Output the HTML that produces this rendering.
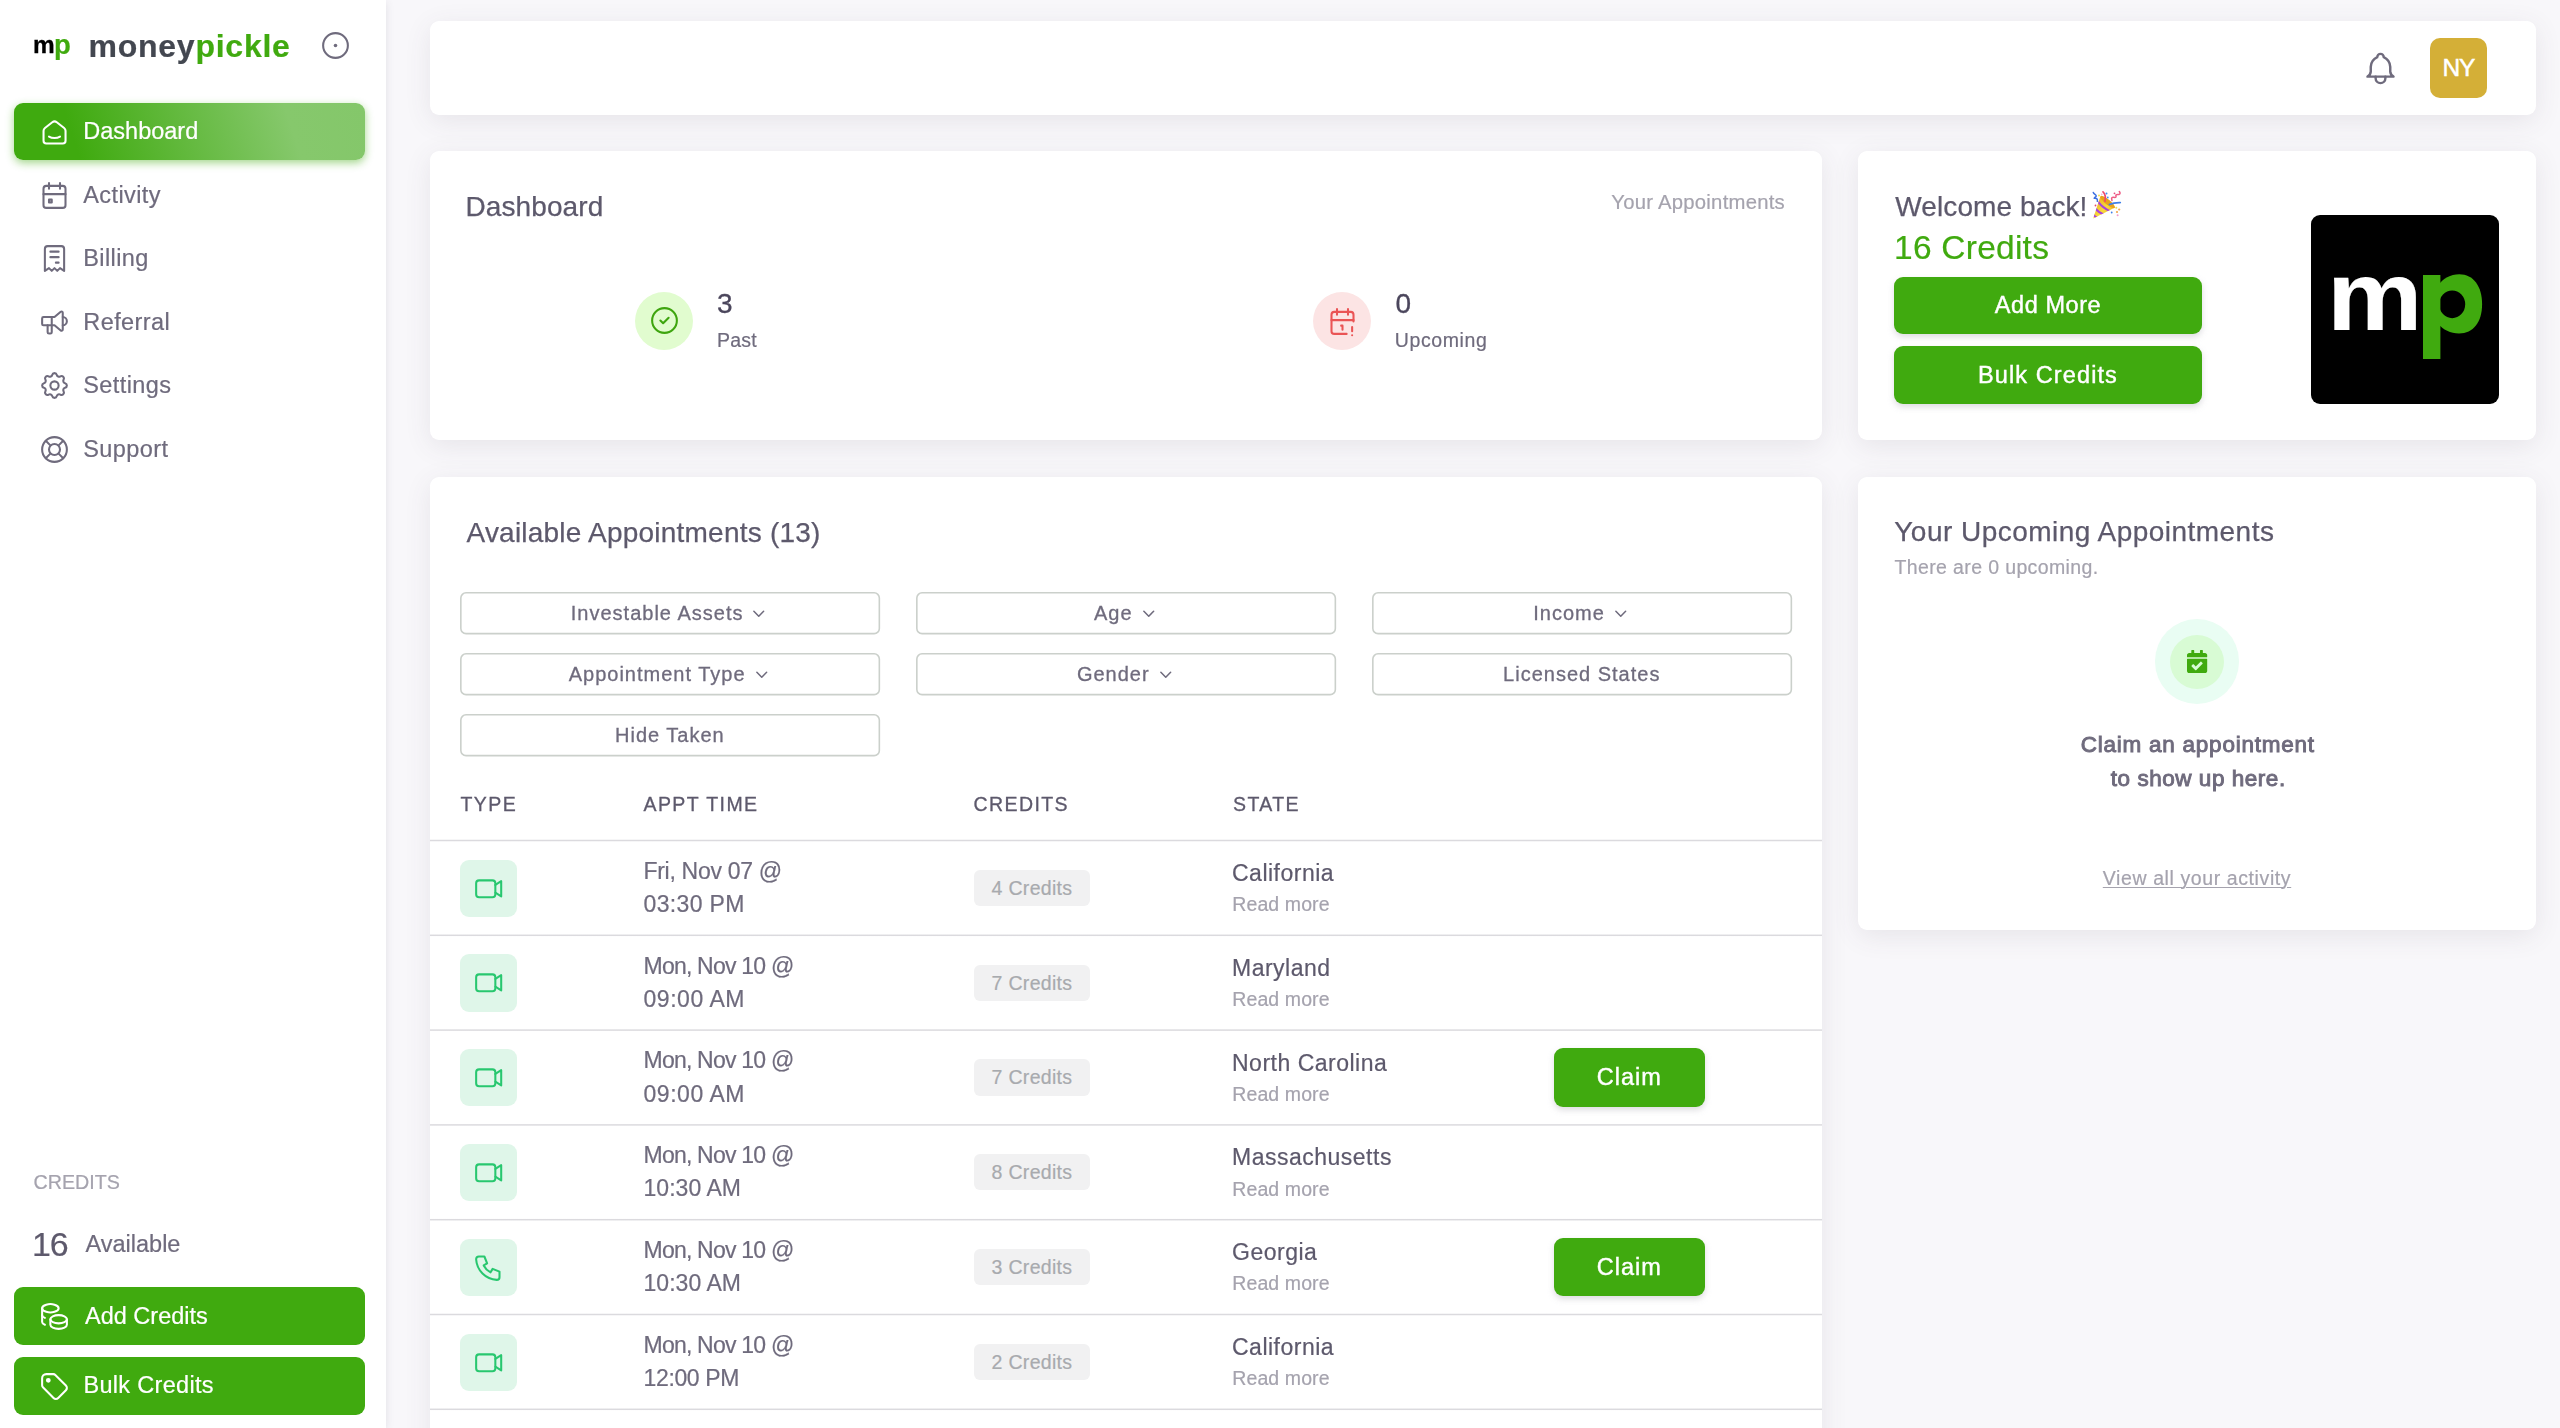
<!DOCTYPE html>
<html lang="en">
<head>
<meta charset="utf-8">
<title>moneypickle – Dashboard</title>
<style>
*{box-sizing:border-box;margin:0;padding:0}
html,body{width:2560px;height:1428px;overflow:hidden}
body{background:#f8f7fa;font-family:"Liberation Sans",sans-serif;color:#6f6b7d;position:relative;-webkit-font-smoothing:antialiased}
body>*{transform:translateZ(0)}
.t,.lbl,.dt,.st,.rm,.badge{-webkit-text-stroke-width:.2px}
.abs{position:absolute}
.t{position:absolute;white-space:nowrap;line-height:1}
svg{display:block;overflow:visible}
/* sidebar */
#side{position:absolute;left:0;top:0;width:386px;height:1428px;background:#fff;box-shadow:0 2px 8px rgba(75,70,92,.13)}
.nav{position:absolute;left:14px;width:350.6px;height:57px;border-radius:9px}
.nav.active{background:linear-gradient(72deg,#3faa0f 18%,#86c86c 78%,#84c76a 100%);box-shadow:0 3px 9px rgba(63,170,15,.48)}
.nav svg{position:absolute;left:24px;top:12.4px;width:33px;height:33px;stroke:#6f6b7d;fill:none;stroke-width:1.5;stroke-linecap:round;stroke-linejoin:round}
.nav.active svg{stroke:#fff;top:13px}
.nav .lbl{position:absolute;left:69.3px;top:16.4px;font-size:23.5px;line-height:24px;color:#6f6b7d;white-space:nowrap;letter-spacing:.4px}
.nav.active .lbl{color:#fff;letter-spacing:0;top:15.7px}
.gbtn{position:absolute;background:#40aa0f;border-radius:9px;color:#fff}
/* cards */
.card{position:absolute;background:#fff;border-radius:9px;box-shadow:0 6px 27px rgba(75,70,92,.10)}

.fbtn{position:absolute;text-align:center;white-space:nowrap;font-size:0;line-height:0}
.fbtn .bd{position:absolute;left:0;top:0}
.fbtn .ft{position:relative;display:inline-block;font-size:20px;line-height:42.4px;height:42.4px;color:#6f6b7d;letter-spacing:1px;-webkit-text-stroke:.3px #6f6b7d;vertical-align:top;top:-.3px}
.fbtn .chev{position:relative;display:inline-block;width:19.5px;height:19.5px;vertical-align:top;margin:12.2px 0 0 6px;stroke:#6f6b7d;fill:none;stroke-width:1.9;stroke-linecap:round;stroke-linejoin:round}
.th{position:absolute;top:318.25px;font-size:19.5px;color:#5d596c;letter-spacing:1.42px;white-space:nowrap;line-height:1;-webkit-text-stroke:.3px #5d596c}
.ln{position:absolute;left:0;width:1392px;height:3px}
.row{position:absolute;left:0;width:1392px;height:94.8px}
.ibox{position:absolute;left:29.9px;top:19px;width:57.4px;height:57.4px;border-radius:9px;background:#dff6e9}
.ibox svg{position:absolute;left:12.6px;top:12.5px;width:33px;height:33px;stroke:#28c76f;fill:none;stroke-width:1.5;stroke-linecap:round;stroke-linejoin:round}
.ibox svg.vd{left:0;top:0;width:57.4px;height:57.4px;stroke-width:2.06}
.dt{position:absolute;left:213.5px;top:14.35px;font-size:23px;line-height:33.2px;color:#6f6b7d;white-space:nowrap}
.dt .d1{letter-spacing:-.3px}
.dt .d2{letter-spacing:.45px}
.badge{position:absolute;left:543.8px;top:29.4px;height:36.2px;border-radius:6px;background:#f1f1f2;color:#a8aaae;font-size:19.5px;line-height:36.4px;padding:0 17.8px;white-space:nowrap;letter-spacing:.3px}
.st{position:absolute;left:802px;top:21.6px;font-size:23px;line-height:1;color:#5d596c;white-space:nowrap;letter-spacing:.5px}
.rm{position:absolute;left:802.3px;top:54.7px;font-size:19.5px;line-height:1;color:#a5a3ae;white-space:nowrap;letter-spacing:.1px}
.claim{position:absolute;left:1123.8px;top:18.3px;width:151.2px;height:58.2px;border-radius:9px;background:#40aa0f;color:#fff;text-align:center;font-size:23.5px;line-height:58.2px;letter-spacing:1px;box-shadow:0 3px 6px rgba(165,163,174,.38);-webkit-text-stroke:.4px #fff}
.claim span{position:relative;top:0px}
</style>
</head>
<body>

<!-- ============ SIDEBAR ============ -->
<div id="side">
  <!-- logo -->
  <div class="t" id="lg-m" style="left:33px;top:34px;font-size:23px;font-weight:700;color:#000;transform:scaleX(1.06);transform-origin:0 0;-webkit-text-stroke:.3px #000">m</div>
  <div class="t" id="lg-p" style="left:54px;top:31px;font-size:27.5px;font-weight:700;color:#40aa0f">p</div>
  <div class="t" id="lg-money" style="left:88.5px;top:29.6px;font-size:32px;font-weight:700;color:#434750;letter-spacing:.75px">money<span style="color:#40aa0f">pickle</span></div>
  <svg class="abs" style="left:319.3px;top:29.3px;width:33px;height:33px" viewBox="0 0 24 24" fill="none" stroke="#6f6b7d" stroke-width="1.5"><circle cx="12" cy="12" r="9"/><circle cx="12" cy="12" r="1.3" fill="#6f6b7d" stroke="none"/></svg>

  <!-- nav -->
  <div class="nav active" style="top:103px">
    <svg viewBox="0 0 24 24"><path d="M19 8.71l-5.333-4.148a2.666 2.666 0 0 0-3.274 0L5.059 8.71A2.665 2.665 0 0 0 4.03 10.815v7.2a2 2 0 0 0 2 2h12a2 2 0 0 0 2-2v-7.2c0-.823-.38-1.6-1.03-2.105"/><path d="M16 15c-2.21 1.333-5.792 1.333-8 0"/></svg>
    <div class="lbl">Dashboard</div>
  </div>
  <div class="nav" style="top:166.5px"><svg viewBox="0 0 24 24"><path d="M4 7a2 2 0 0 1 2-2h12a2 2 0 0 1 2 2v12a2 2 0 0 1-2 2H6a2 2 0 0 1-2-2z"/><path d="M16 3v4M8 3v4M4 11h16"/><path d="M8 15h2v2H8z"/></svg><div class="lbl">Activity</div></div>
  <div class="nav" style="top:230px"><svg viewBox="0 0 24 24"><path d="M5 21V5a2 2 0 0 1 2-2h10a2 2 0 0 1 2 2v16l-3-2-2 2-2-2-2 2-2-2-3 2"/><path d="M9 7h6M9 11h6M13 15h2"/></svg><div class="lbl">Billing</div></div>
  <div class="nav" style="top:293.7px"><svg viewBox="0 0 24 24"><path d="M18 8a3 3 0 0 1 0 6"/><path d="M10 8v11a1 1 0 0 1-1 1H8a1 1 0 0 1-1-1v-5"/><path d="M12 8l4.524-3.77A.9.9 0 0 1 18 4.922v12.156a.9.9 0 0 1-1.476.692L12 14H4a1 1 0 0 1-1-1V9a1 1 0 0 1 1-1h8"/></svg><div class="lbl">Referral</div></div>
  <div class="nav" style="top:357px"><svg viewBox="0 0 24 24"><path d="M10.325 4.317c.426-1.756 2.924-1.756 3.35 0a1.724 1.724 0 0 0 2.573 1.066c1.543-.94 3.31.826 2.37 2.37a1.724 1.724 0 0 0 1.065 2.572c1.756.426 1.756 2.924 0 3.35a1.724 1.724 0 0 0-1.066 2.573c.94 1.543-.826 3.31-2.37 2.37a1.724 1.724 0 0 0-2.572 1.065c-.426 1.756-2.924 1.756-3.35 0a1.724 1.724 0 0 0-2.573-1.066c-1.543.94-3.31-.826-2.37-2.37a1.724 1.724 0 0 0-1.065-2.572c-1.756-.426-1.756-2.924 0-3.35a1.724 1.724 0 0 0 1.066-2.573c-.94-1.543.826-3.31 2.37-2.37 1 .608 2.296.07 2.572-1.065z"/><circle cx="12" cy="12" r="3"/></svg><div class="lbl">Settings</div></div>
  <div class="nav" style="top:420.6px"><svg viewBox="0 0 24 24"><circle cx="12" cy="12" r="4"/><circle cx="12" cy="12" r="9"/><path d="M15 15l3.35 3.35M9 15l-3.35 3.35M5.650 5.650 9 9M18.350 5.650 15 9"/></svg><div class="lbl">Support</div></div>

  <!-- credits -->
  <div class="t" style="left:33.5px;top:1172.5px;font-size:19.7px;color:#a5a3ae;letter-spacing:0">CREDITS</div>
  <div class="t" style="left:32px;top:1227.3px;font-size:34px;color:#5d596c;letter-spacing:-1.2px">16</div>
  <div class="t" style="left:85.5px;top:1232.6px;font-size:23.5px;color:#6f6b7d">Available</div>

  <div class="gbtn" style="left:14px;top:1287px;width:350.7px;height:57.5px"><svg class="abs" style="left:24px;top:13px;width:33px;height:33px" viewBox="0 0 24 24" fill="none" stroke="#fff" stroke-width="1.5" stroke-linecap="round" stroke-linejoin="round"><path d="M9 14c0 1.657 2.686 3 6 3s6-1.343 6-3-2.686-3-6-3-6 1.343-6 3z"/><path d="M9 14v4c0 1.656 2.686 3 6 3s6-1.344 6-3v-4"/><path d="M3 6c0 1.072 1.144 2.062 3 2.598s4.144.536 6 0c1.856-.536 3-1.526 3-2.598 0-1.072-1.144-2.062-3-2.598s-4.144-.536-6 0C4.144 3.938 3 4.928 3 6z"/><path d="M3 6v10c0 .888.772 1.45 2 2"/><path d="M3 11c0 .888.772 1.45 2 2"/></svg><div class="t" style="left:71px;top:18.4px;font-size:23.5px;color:#fff">Add Credits</div></div>
  <div class="gbtn" style="left:14px;top:1357px;width:350.7px;height:57.5px"><svg class="abs" style="left:24px;top:13px;width:33px;height:33px" viewBox="0 0 24 24" fill="none" stroke="#fff" stroke-width="1.5" stroke-linecap="round" stroke-linejoin="round"><circle cx="7.5" cy="7.5" r="1" fill="#fff"/><path d="M3 6v5.172a2 2 0 0 0 .586 1.414l7.71 7.71a2.41 2.41 0 0 0 3.408 0l5.592-5.592a2.41 2.41 0 0 0 0-3.408l-7.71-7.71A2 2 0 0 0 11.172 3H6a3 3 0 0 0-3 3z"/></svg><div class="t" style="left:69.5px;top:17.2px;font-size:23.5px;color:#fff;letter-spacing:.3px">Bulk Credits</div></div>
</div>

<!-- ============ TOP BAR ============ -->
<div class="card" id="topbar" style="left:430px;top:21px;width:2106px;height:94px">
  <svg class="abs" style="left:1930.5px;top:27.7px;width:39px;height:39px" viewBox="0 0 24 24" fill="none" stroke="#6f6b7d" stroke-width="1.5" stroke-linecap="round" stroke-linejoin="round"><path d="M10 5a2 2 0 1 1 4 0 7 7 0 0 1 4 6v3a4 4 0 0 0 2 3H4a4 4 0 0 0 2-3v-3a7 7 0 0 1 4-6"/><path d="M9 17v1a3 3 0 0 0 6 0v-1"/></svg>
  <div class="abs" id="avatar" style="left:2000px;top:17px;width:57.3px;height:60px;border-radius:10px;background:#d4af37"></div>
  <div class="t" id="ny" style="left:2012.5px;top:34.9px;font-size:24.5px;color:#fff;letter-spacing:-1.2px;-webkit-text-stroke:.5px #fff">NY</div>
</div>

<!-- ============ DASHBOARD CARD ============ -->
<div class="card" id="dash" style="left:430px;top:151px;width:1392px;height:289px">
  <div class="t" id="d-title" style="-webkit-text-stroke:.25px #5d596c;left:35.5px;top:41.8px;font-size:28px;color:#5d596c;letter-spacing:.1px">Dashboard</div>
  <div class="t" id="d-ya" style="right:37px;top:41px;font-size:20.3px;color:#a5a3ae;letter-spacing:.25px">Your Appointments</div>

  <div class="abs" style="left:205px;top:140.5px;width:58px;height:58px;border-radius:50%;background:#e1fccf"></div>
  <svg class="abs" style="left:217.7px;top:153.2px;width:33px;height:33px" viewBox="0 0 24 24" fill="none" stroke="#3ea50f" stroke-width="1.5" stroke-linecap="round" stroke-linejoin="round"><circle cx="12" cy="12" r="9"/><path d="M9 12l2 2 4-4"/></svg>
  <div class="t" id="d-3" style="-webkit-text-stroke:.3px #4b465c;left:287px;top:139px;font-size:28px;color:#4b465c">3</div>
  <div class="t" id="d-past" style="left:287px;top:180px;font-size:19.5px;color:#6f6b7d;letter-spacing:.2px">Past</div>

  <div class="abs" style="left:883px;top:140.5px;width:58px;height:58px;border-radius:50%;background:#fce4e4"></div>
  <svg class="abs" style="left:895.8px;top:153.9px;width:33px;height:33px" viewBox="0 0 24 24" fill="none" stroke="#ea5455" stroke-width="1.5" stroke-linecap="round" stroke-linejoin="round"><path d="M15 21H6a2 2 0 0 1-2-2V7a2 2 0 0 1 2-2h12a2 2 0 0 1 2 2v5"/><path d="M16 3v4M8 3v4M4 11h16M11 15h1M12 15v3M19 16v3M19 22v.01"/></svg>
  <div class="t" id="d-0" style="-webkit-text-stroke:.3px #4b465c;left:965.5px;top:139.3px;font-size:28px;color:#4b465c">0</div>
  <div class="t" id="d-up" style="left:964.8px;top:180px;font-size:19.5px;color:#6f6b7d;letter-spacing:.6px">Upcoming</div>
</div>

<!-- ============ WELCOME CARD ============ -->
<div class="card" id="welcome" style="left:1858px;top:151px;width:678px;height:289px">
  <div class="t" id="w-title" style="-webkit-text-stroke:.25px #5d596c;left:37.3px;top:41.8px;font-size:28px;color:#5d596c;letter-spacing:.1px">Welcome back!</div>
  <svg class="abs" id="party" style="left:226px;top:33px;width:46px;height:40px" viewBox="0 0 46 40">
    <defs><linearGradient id="pg" x1="0" y1="0" x2="1" y2="1"><stop offset="0" stop-color="#e9a520"/><stop offset=".55" stop-color="#f8d93a"/><stop offset="1" stop-color="#e79a12"/></linearGradient><clipPath id="pc"><path d="M9.200 34.600L16.300 12.600Q24.500 14 31 23.600Z"/></clipPath></defs>
    <path d="M9.200 34.600L16.300 12.600Q24.500 14 31 23.600Z" fill="url(#pg)"/>
    <g clip-path="url(#pc)" stroke="#a743dc" stroke-width="2.100" fill="none"><path d="M13.800 17.400Q18.500 24 26.500 27.400"/><path d="M11.300 24.300Q14.500 28.500 20.500 31"/><path d="M9 30.500Q10.800 32.800 14 34.200"/></g>
    <ellipse cx="23.650" cy="18" rx="9.200" ry="2.600" transform="rotate(38.800 23.650 18)" fill="#e8a21a"/>
    <path d="M25.400 20.600C28.500 19 32.500 18.500 36.300 18.600" stroke="#3f7fe8" stroke-width="1.700" fill="none" stroke-linecap="round"/>
    <path d="M21 17.300C21.800 13.500 21.300 10 19 7.800" stroke="#f0486b" stroke-width="1.700" fill="none" stroke-linecap="round"/>
    <path d="M9.300 8.500C10 10.500 12.500 10.500 12.200 12.200C11.500 13.500 10.500 13 10.300 14.200C11.800 14.500 14 14 13.300 17.300" stroke="#3c6fe0" stroke-width="1.500" fill="none" stroke-linecap="round"/>
    <path d="M28 16.500C27.500 14.500 27.200 13.500 29 13.300C31 13.500 32.500 13.800 32 12C31.200 10.300 33 10.800 35 10.500C36.800 10 36 8.500 35.300 7.500" stroke="#ee5d86" stroke-width="1.500" fill="none" stroke-linecap="round"/>
    <circle cx="15" cy="11.500" r="1" fill="#f3df4a"/><circle cx="22.500" cy="9.500" r="1" fill="#3f8fef"/><circle cx="23.800" cy="13.500" r=".9" fill="#3f8fef"/><circle cx="30.500" cy="9.300" r=".9" fill="#e8467c"/><circle cx="11.500" cy="21.500" r=".9" fill="#e8466a"/><circle cx="32.300" cy="23.800" r="1" fill="#f3e04a"/><circle cx="35.200" cy="25.500" r="1.100" fill="#f0a54a"/><circle cx="33" cy="28" r="1.100" fill="#f0a54a"/><circle cx="27.700" cy="28.500" r=".9" fill="#3f7fe8"/><circle cx="33.600" cy="31.300" r="1" fill="#f29bd0"/><circle cx="17.800" cy="10.300" r=".7" fill="#f29bd0"/>
  </svg>
  <div class="t" id="w-cred" style="left:36px;top:80px;font-size:33.5px;color:#40aa0f;letter-spacing:.25px">16 Credits</div>
  <div class="gbtn" style="left:36px;top:126px;width:308px;height:56.7px;box-shadow:0 3px 6px rgba(165,163,174,.38)"><div class="t" id="w-add" style="left:0;width:308px;text-align:center;top:17.2px;font-size:23.5px;letter-spacing:.55px;-webkit-text-stroke:.4px #fff">Add More</div></div>
  <div class="gbtn" style="left:36px;top:195px;width:308px;height:57.7px;box-shadow:0 3px 6px rgba(165,163,174,.38)"><div class="t" id="w-bulk" style="left:0;width:308px;text-align:center;top:17.7px;font-size:23.5px;letter-spacing:1.1px;-webkit-text-stroke:.4px #fff">Bulk Credits</div></div>
  <div class="abs" style="left:452.8px;top:64.4px;width:188.7px;height:188.7px;background:#000;border-radius:9px;overflow:hidden">
    <div class="t" id="big-m" style="left:16.3px;top:31.6px;font-size:98.7px;font-weight:700;color:#fff;transform:scaleX(1.088);transform-origin:0 0">m</div>
    <svg class="abs" style="left:0;top:0;width:188.7px;height:188.7px" viewBox="0 0 188.700 188.700"><path fill="#40aa0f" d="M127 70.500C132 63.500 139.500 59.300 148.300 59.300C162.500 59.300 171.100 71.500 171.100 89.200C171.100 107 162.300 118.400 148 118.400C139.500 118.400 132 114.800 127 108.500z"/><ellipse cx="141.200" cy="89.300" rx="13" ry="13.900" fill="#000"/><path fill="#40aa0f" d="M112 60.100h17.400v84H112z"/></svg>
  </div>
</div>

<!-- ============ AVAILABLE APPOINTMENTS ============ -->
<div class="card" id="avail" style="left:430px;top:477px;width:1392px;height:1000px">
  <div class="t" id="a-title" style="left:36.5px;top:41.6px;font-size:28px;color:#5d596c;letter-spacing:.22px;-webkit-text-stroke:.25px #5d596c">Available Appointments (13)</div>

  <div class="fbtn" style="left:29.8px;top:115.0px;width:420.2px;height:42.4px"><svg class="bd" width="420.2" height="42.4" viewBox="0 0 420.2 42.4"><rect x=".8" y=".8" width="418.6" height="40.8" rx="5.2" fill="#fff" stroke="#cbd0cb" stroke-width="1.6"/></svg><span class="ft" style="">Investable Assets</span><svg class="chev" viewBox="0 0 24 24"><path d="M6 9l6 6 6-6"/></svg></div>
  <div class="fbtn" style="left:485.9px;top:115.0px;width:420.2px;height:42.4px"><svg class="bd" width="420.2" height="42.4" viewBox="0 0 420.2 42.4"><rect x=".8" y=".8" width="418.6" height="40.8" rx="5.2" fill="#fff" stroke="#cbd0cb" stroke-width="1.6"/></svg><span class="ft" style="">Age</span><svg class="chev" viewBox="0 0 24 24"><path d="M6 9l6 6 6-6"/></svg></div>
  <div class="fbtn" style="left:941.7px;top:115.0px;width:420.2px;height:42.4px"><svg class="bd" width="420.2" height="42.4" viewBox="0 0 420.2 42.4"><rect x=".8" y=".8" width="418.6" height="40.8" rx="5.2" fill="#fff" stroke="#cbd0cb" stroke-width="1.6"/></svg><span class="ft" style="">Income</span><svg class="chev" viewBox="0 0 24 24"><path d="M6 9l6 6 6-6"/></svg></div>
  <div class="fbtn" style="left:29.8px;top:175.9px;width:420.2px;height:42.4px"><svg class="bd" width="420.2" height="42.4" viewBox="0 0 420.2 42.4"><rect x=".8" y=".8" width="418.6" height="40.8" rx="5.2" fill="#fff" stroke="#cbd0cb" stroke-width="1.6"/></svg><span class="ft" style="">Appointment Type</span><svg class="chev" viewBox="0 0 24 24"><path d="M6 9l6 6 6-6"/></svg></div>
  <div class="fbtn" style="left:485.9px;top:175.9px;width:420.2px;height:42.4px"><svg class="bd" width="420.2" height="42.4" viewBox="0 0 420.2 42.4"><rect x=".8" y=".8" width="418.6" height="40.8" rx="5.2" fill="#fff" stroke="#cbd0cb" stroke-width="1.6"/></svg><span class="ft" style="">Gender</span><svg class="chev" viewBox="0 0 24 24"><path d="M6 9l6 6 6-6"/></svg></div>
  <div class="fbtn" style="left:941.7px;top:175.9px;width:420.2px;height:42.4px"><svg class="bd" width="420.2" height="42.4" viewBox="0 0 420.2 42.4"><rect x=".8" y=".8" width="418.6" height="40.8" rx="5.2" fill="#fff" stroke="#cbd0cb" stroke-width="1.6"/></svg><span class="ft" style="">Licensed States</span></div>
  <div class="fbtn" style="left:29.8px;top:237.1px;width:420.2px;height:42.4px"><svg class="bd" width="420.2" height="42.4" viewBox="0 0 420.2 42.4"><rect x=".8" y=".8" width="418.6" height="40.8" rx="5.2" fill="#fff" stroke="#cbd0cb" stroke-width="1.6"/></svg><span class="ft" style="">Hide Taken</span></div>

  <div class="th" style="left:30.5px">TYPE</div>
  <div class="th" style="left:213.5px">APPT TIME</div>
  <div class="th" style="left:543.5px">CREDITS</div>
  <div class="th" style="left:803px">STATE</div>

  <div class="ln" style="top:362px;background:linear-gradient(to bottom,rgba(219,218,222,0.25) 0px 1px,rgba(219,218,222,1.00) 1px 2px,rgba(219,218,222,0.25) 2px 3px)"></div>
  <div class="row" style="top:363.50px"><div class="ibox"><svg class="vd" viewBox="0 0 57.400 57.400"><rect x="16.150" y="20.400" width="19.200" height="16.850" rx="2.900"/><path d="M35.350 24.900L41.200 21.200V36.450L35.350 32.750"/></svg></div><div class="dt"><span class="d1">Fri, Nov 07 @</span><br><span class="d2" style="letter-spacing:0.35px">03:30 PM</span></div><div class="badge">4 Credits</div><div class="st">California</div><div class="rm">Read more</div></div>
  <div class="ln" style="top:457px;background:linear-gradient(to bottom,rgba(219,218,222,0.45) 0px 1px,rgba(219,218,222,1.00) 1px 2px,rgba(219,218,222,0.05) 2px 3px)"></div>
  <div class="row" style="top:458.30px"><div class="ibox"><svg class="vd" viewBox="0 0 57.400 57.400"><rect x="16.150" y="20.400" width="19.200" height="16.850" rx="2.900"/><path d="M35.350 24.900L41.200 21.200V36.450L35.350 32.750"/></svg></div><div class="dt"><span class="d1" style=letter-spacing:-.78px>Mon, Nov 10 @</span><br><span class="d2" style="letter-spacing:0.55px">09:00 AM</span></div><div class="badge">7 Credits</div><div class="st">Maryland</div><div class="rm">Read more</div></div>
  <div class="ln" style="top:552px;background:linear-gradient(to bottom,rgba(219,218,222,0.65) 0px 1px,rgba(219,218,222,0.85) 1px 2px,rgba(219,218,222,0.00) 2px 3px)"></div>
  <div class="row" style="top:553.10px"><div class="ibox"><svg class="vd" viewBox="0 0 57.400 57.400"><rect x="16.150" y="20.400" width="19.200" height="16.850" rx="2.900"/><path d="M35.350 24.900L41.200 21.200V36.450L35.350 32.750"/></svg></div><div class="dt"><span class="d1" style=letter-spacing:-.78px>Mon, Nov 10 @</span><br><span class="d2" style="letter-spacing:0.55px">09:00 AM</span></div><div class="badge">7 Credits</div><div class="st">North Carolina</div><div class="rm">Read more</div><div class=claim><span>Claim</span></div></div>
  <div class="ln" style="top:647px;background:linear-gradient(to bottom,rgba(219,218,222,0.85) 0px 1px,rgba(219,218,222,0.65) 1px 2px,rgba(219,218,222,0.00) 2px 3px)"></div>
  <div class="row" style="top:647.90px"><div class="ibox"><svg class="vd" viewBox="0 0 57.400 57.400"><rect x="16.150" y="20.400" width="19.200" height="16.850" rx="2.900"/><path d="M35.350 24.900L41.200 21.200V36.450L35.350 32.750"/></svg></div><div class="dt"><span class="d1" style=letter-spacing:-.78px>Mon, Nov 10 @</span><br><span class="d2" style="letter-spacing:0.05px">10:30 AM</span></div><div class="badge">8 Credits</div><div class="st">Massachusetts</div><div class="rm">Read more</div></div>
  <div class="ln" style="top:741px;background:linear-gradient(to bottom,rgba(219,218,222,0.05) 0px 1px,rgba(219,218,222,1.00) 1px 2px,rgba(219,218,222,0.45) 2px 3px)"></div>
  <div class="row" style="top:742.70px"><div class="ibox"><svg viewBox="0 0 24 24"><path d="M5 4h4l2 5-2.500 1.500a11 11 0 0 0 5 5L15 13l5 2v4a2 2 0 0 1-2 2A16 16 0 0 1 3 6a2 2 0 0 1 2-2"/></svg></div><div class="dt"><span class="d1" style=letter-spacing:-.78px>Mon, Nov 10 @</span><br><span class="d2" style="letter-spacing:0.05px">10:30 AM</span></div><div class="badge">3 Credits</div><div class="st">Georgia</div><div class="rm">Read more</div><div class=claim><span>Claim</span></div></div>
  <div class="ln" style="top:836px;background:linear-gradient(to bottom,rgba(219,218,222,0.25) 0px 1px,rgba(219,218,222,1.00) 1px 2px,rgba(219,218,222,0.25) 2px 3px)"></div>
  <div class="row" style="top:837.50px"><div class="ibox"><svg class="vd" viewBox="0 0 57.400 57.400"><rect x="16.150" y="20.400" width="19.200" height="16.850" rx="2.900"/><path d="M35.350 24.900L41.200 21.200V36.450L35.350 32.750"/></svg></div><div class="dt"><span class="d1" style=letter-spacing:-.78px>Mon, Nov 10 @</span><br><span class="d2" style="letter-spacing:-0.35px">12:00 PM</span></div><div class="badge">2 Credits</div><div class="st">California</div><div class="rm">Read more</div></div>
  <div class="ln" style="top:931px;background:linear-gradient(to bottom,rgba(219,218,222,0.45) 0px 1px,rgba(219,218,222,1.00) 1px 2px,rgba(219,218,222,0.05) 2px 3px)"></div>
  <div class="row" style="top:932.30px"><div class="ibox"><svg class="vd" viewBox="0 0 57.400 57.400"><rect x="16.150" y="20.400" width="19.200" height="16.850" rx="2.900"/><path d="M35.350 24.900L41.200 21.200V36.450L35.350 32.750"/></svg></div><div class="dt"><span class="d1" style=letter-spacing:-.78px>Mon, Nov 10 @</span><br><span class="d2" style="letter-spacing:0.2px">01:30 PM</span></div><div class="badge">5 Credits</div><div class="st">Texas</div><div class="rm">Read more</div></div>
</div>

<!-- ============ UPCOMING ============ -->
<div class="card" id="upcoming" style="left:1858px;top:477px;width:678px;height:453px">
  <div class="t" id="u-title" style="-webkit-text-stroke:.25px #5d596c;left:36.3px;top:41.3px;font-size:28px;color:#5d596c;letter-spacing:.47px">Your Upcoming Appointments</div>
  <div class="t" id="u-sub" style="left:36.5px;top:80.8px;font-size:19.5px;color:#a5a3ae;letter-spacing:.37px">There are 0 upcoming.</div>
  <div class="abs" style="left:296.5px;top:142.4px;width:84.6px;height:84.6px;border-radius:50%;background:#e9fdf3"></div>
  <div class="abs" style="left:311.6px;top:157.5px;width:54.4px;height:54.4px;border-radius:50%;background:#d8fbd4"></div>
  <svg class="abs" style="left:329px;top:172.9px;width:20.2px;height:23.1px" viewBox="0 0 448 512"><path fill="#40aa0f" d="M436 160H12c-6.627 0-12-5.373-12-12v-36c0-26.510 21.490-48 48-48h48V12c0-6.627 5.373-12 12-12h40c6.627 0 12 5.373 12 12v52h128V12c0-6.627 5.373-12 12-12h40c6.627 0 12 5.373 12 12v52h48c26.510 0 48 21.490 48 48v36c0 6.627-5.373 12-12 12zM12 192h424c6.627 0 12 5.373 12 12v260c0 26.510-21.490 48-48 48H48c-26.510 0-48-21.490-48-48V204c0-6.627 5.373-12 12-12z"/><path fill="#d8fbd4" d="M345.296 287.947l-28.169-28.398c-4.667-4.705-12.265-4.736-16.970-.068L194.120 364.665l-45.980-46.352c-4.667-4.705-12.265-4.736-16.970-.068l-28.397 28.170c-4.705 4.667-4.736 12.265-.068 16.970l82.601 83.269c4.667 4.705 12.265 4.736 16.970.068l142.953-141.805c4.705-4.667 4.736-12.265.067-16.970z"/></svg>
  <div class="t" id="u-l1" style="left:0;width:678px;text-align:center;top:257.4px;font-size:22.5px;font-weight:400;color:#6f6b7d;letter-spacing:.75px;padding-left:1.5px;-webkit-text-stroke:.95px #6f6b7d">Claim an appointment</div>
  <div class="t" id="u-l2" style="left:0;width:678px;text-align:center;top:290.7px;font-size:22.5px;font-weight:400;color:#6f6b7d;letter-spacing:.53px;padding-left:2.5px;-webkit-text-stroke:.95px #6f6b7d">to show up here.</div>
  <div class="t" id="u-link" style="left:0;width:678px;text-align:center;top:391.5px;font-size:19.5px;color:#a5a3ae;letter-spacing:.6px;text-decoration:underline;text-underline-offset:1.5px;text-decoration-thickness:1.2px">View all your activity</div>
</div>

</body>
</html>
